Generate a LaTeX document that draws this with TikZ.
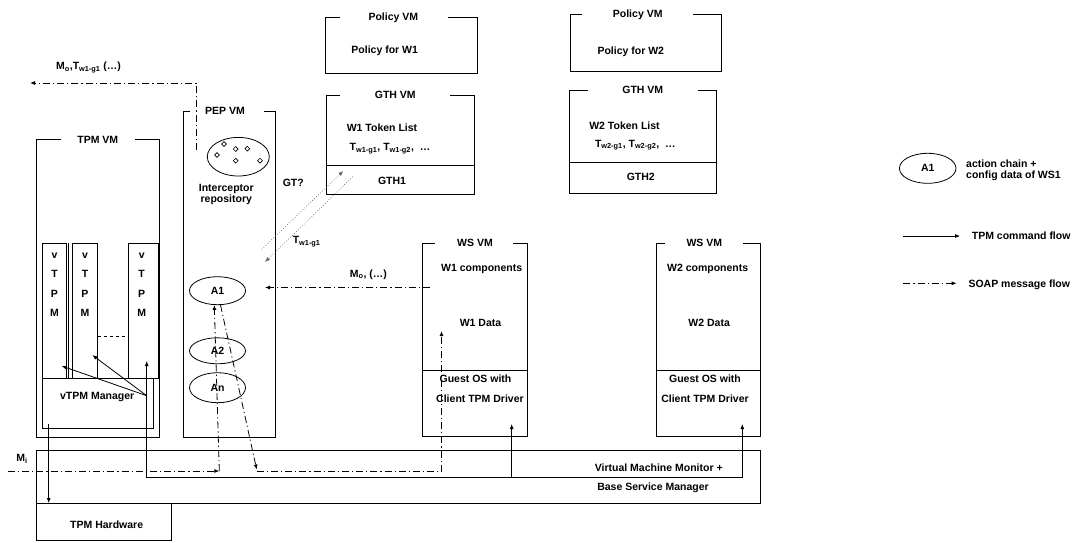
\documentclass[tikz,border=0pt]{standalone}
\usepackage{fontspec}
\setmainfont{Liberation Sans}
\usetikzlibrary{arrows.meta,shapes.geometric}
\newcommand\vmbox[6]{\draw[box] (#5,#2) -- (#1,#2) -- (#1,#4) -- (#3,#4) -- (#3,#2) -- (#6,#2);}
\begin{document}
\begin{tikzpicture}[x=1pt,y=-1pt,
  lbl/.style={font=\bfseries\fontsize{10.5}{12}\selectfont, inner sep=0pt, text height=7.5pt, text depth=0pt},
  box/.style={line width=0.8pt, draw=black},
  arr/.style={line width=0.8pt, -{Latex[length=5pt,width=4pt]}},
  soap/.style={line width=0.8pt, dash pattern=on 7pt off 3pt on 1.2pt off 3pt},
  soaparr/.style={soap, -{Latex[length=5pt,width=4pt]}},
  tok/.style={line width=0.7pt, black!60, dotted, -{Latex[length=5pt,width=4pt]}},
  act/.style={ellipse, draw, line width=0.8pt, minimum width=56pt, minimum height=28pt, inner sep=0pt, font=\bfseries\fontsize{10.5}{12}\selectfont},
  dia/.style={line width=0.6pt}]
\useasboundingbox (0,0) rectangle (1075,542);

% ---------- boxes ----------
\vmbox{36}{139.3}{159.3}{437}{61}{135}
\node[lbl] (tpmvm) at (97.8,139.3) {TPM VM};
\vmbox{183.7}{111}{275.3}{437}{190}{264}
\node[lbl] (pepvm) at (225,111) {PEP VM};
\vmbox{325.7}{17.3}{477.3}{73.3}{340}{448.3}
\node[lbl] (pol1) at (393.3,16.5) {Policy VM};
\node[lbl] (pol1t) at (384.7,50) {Policy for W1};
\vmbox{326.7}{95.7}{474}{194.3}{340}{450}
\node[lbl] (gth1) at (395.3,95) {GTH VM};
\draw[box] (326.7,165) -- (474,165);
\node[lbl] (tl1) at (382,127.3) {W1 Token List};
\node[lbl] (tk1) at (390,146.7) {T\textsubscript{w1-g1}, T\textsubscript{w1-g2}, \ \dots};
\node[lbl] (gthone) at (392,181) {GTH1};
\vmbox{570}{14.3}{721.7}{71}{581.7}{693.3}
\node[lbl] (pol2) at (637.7,13.5) {Policy VM};
\node[lbl] (pol2t) at (630.8,50.7) {Policy for W2};
\vmbox{569.3}{90}{716.7}{193.3}{588.3}{698.3}
\node[lbl] (gth2) at (642.8,89.5) {GTH VM};
\draw[box] (569.3,162.7) -- (716.7,162.7);
\node[lbl] (tl2) at (624.5,125.3) {W2 Token List};
\node[lbl] (tk2) at (635.3,143.3) {T\textsubscript{w2-g1}, T\textsubscript{w2-g2}, \ \dots};
\node[lbl] (gthtwo) at (640.8,176.7) {GTH2};
\vmbox{422.7}{243.3}{527.3}{436.7}{435}{513.3}
\node[lbl] (ws1) at (475,242.7) {WS VM};
\draw[box] (422.7,370) -- (527.3,370);
\node[lbl] (w1c) at (481.7,267.3) {W1 components};
\node[lbl] (w1d) at (480.5,322.3) {W1 Data};
\node[lbl] (w1g) at (475.5,378.3) {Guest OS with};
\node[lbl] (w1t) at (480,398.3) {Client TPM Driver};
\vmbox{656}{243.3}{760}{436.7}{665}{743.3}
\node[lbl] (ws2) at (704.3,242.7) {WS VM};
\draw[box] (656,370) -- (760,370);
\node[lbl] (w2c) at (707.7,267.3) {W2 components};
\node[lbl] (w2d) at (709.2,322.3) {W2 Data};
\node[lbl] (w2g) at (705,379) {Guest OS with};
\node[lbl] (w2t) at (705,398.3) {Client TPM Driver};
% VMM and hardware
\draw[box] (36,450) rectangle (760,503);
\node[lbl] (vmm1) at (658.7,467.7) {Virtual Machine Monitor +};
\node[lbl] (vmm2) at (653,486.7) {Base Service Manager};
\draw[box] (36,503) rectangle (171.5,540);
\node[lbl] (hw) at (106.7,525) {TPM Hardware};

% ---------- TPM VM internals ----------
\draw[box] (42,243) rectangle (66,378);
\draw[box] (68,243) -- (68,378);
\draw[box] (72.5,243) rectangle (97.5,378);
\draw[box] (128.7,243) rectangle (158.7,378);
\draw[box] (42,378) -- (159.3,378);
\draw[box] (42,378) -- (42,428.3) -- (153.3,428.3) -- (153.3,378);
\draw[line width=0.8pt, dashed] (97.5,336) -- (128.7,336);
\foreach \cx/\nm in {54.5/a,85/b,141.7/c}{
  \node[lbl] (v\nm) at (\cx,255) {v};
  \node[lbl] (t\nm) at (\cx,274) {T};
  \node[lbl] (p\nm) at (\cx,293.5) {P};
  \node[lbl] (m\nm) at (\cx,312.5) {M};
}
\node[lbl] (mgr) at (97.2,395.7) {vTPM Manager};

% ---------- PEP VM internals ----------
\draw[line width=0.8pt] (238.3,156.7) ellipse [x radius=31, y radius=19.3];
\foreach \dx/\dy in {224/144,235.7/149,247.3/148.7,217/155,235.7/160.7,260/160.7}{
  \draw[dia] (\dx-2.4,\dy) -- (\dx,\dy-2.4) -- (\dx+2.4,\dy) -- (\dx,\dy+2.4) -- cycle;
}
\node[lbl] (ir1) at (226.3,187.3) {Interceptor};
\node[lbl] (ir2) at (226.3,199) {repository};
\node[act] (A1) at (217.5,290.7) {A1};
\node[act, minimum height=26pt] (A2) at (217.5,350.8) {A2};
\node[act, minimum height=30pt] (An) at (217.5,387.7) {An};

% ---------- coordinates ----------
\coordinate (pepOut) at (196,150);
\coordinate (pepCorner) at (196,83);
\coordinate (leftEnd) at (30,83);
\coordinate (miStart) at (8,471);
\coordinate (miCorner) at (219.3,471);
\coordinate (a1Bot) at (214.3,305);
\coordinate (a1Out) at (220.5,305);
\coordinate (downEnd) at (256.7,469.5);
\coordinate (wsCorner) at (441.5,471.5);
\coordinate (wsIn) at (441.5,331);
\coordinate (moStart) at (430,287.5);
\coordinate (moEnd) at (265,287.5);
\coordinate (gtStart) at (261.7,249.3);
\coordinate (gtEnd) at (343.3,171);
\coordinate (tkStart) at (352.7,176.7);
\coordinate (tkEnd) at (265,262);
\coordinate (mgrSrc) at (146.7,395.7);
\coordinate (vt1) at (61.7,366);
\coordinate (vt2) at (92.3,355);
\coordinate (vt3) at (146.7,361);
\coordinate (busL) at (146.7,477.3);
\coordinate (busW1) at (511.7,477.3);
\coordinate (busW2) at (742.3,477.3);
\coordinate (w1In) at (511.7,424);
\coordinate (w2In) at (742.3,424);
\coordinate (mgrDown) at (48.7,424);
\coordinate (hwTop) at (48.7,503);

% ---------- TPM command flow ----------
\draw[arr] (mgrSrc) -- (vt1);
\draw[arr] (mgrSrc) -- (vt2);
\draw[arr] (busW2) -- (busL) -- (vt3);
\draw[arr] (busL) -| (w2In);
\draw[arr] (busW1) -- (w1In);
\draw[arr] (mgrDown) -- (hwTop);

% ---------- SOAP message flow ----------
\draw[soaparr] (pepOut) -- (pepCorner) -- (leftEnd);
\node[lbl] (moT) at (88.5,66) {M\textsubscript{o},T\textsubscript{w1-g1} (\dots)};
\draw[soaparr] (miStart) -- (miCorner);
\draw[soaparr] (miCorner) -- (a1Bot);
\node[lbl] (mi) at (22,458) {M\textsubscript{i}};
\draw[soaparr] (a1Out) -- (downEnd);
\draw[soaparr] (downEnd |- wsCorner) -- (wsCorner) -- (wsIn);
\draw[soaparr] (moStart) -- (moEnd);
\node[lbl] (mo) at (368.3,273.3) {M\textsubscript{o}, (\dots)};

% ---------- token request ----------
\draw[tok] (gtStart) -- (gtEnd);
\draw[tok] (tkStart) -- (tkEnd);
\node[lbl] (gt) at (293.3,182.7) {GT?};
\node[lbl] (tw) at (306.7,240) {T\textsubscript{w1-g1}};

% ---------- legend ----------
\node[act, minimum width=56.6pt, minimum height=30pt] (legA) at (927.7,168.3) {A1};
\node[lbl, anchor=west] (leg1) at (966,163.3) {action chain +};
\node[lbl, anchor=west] (leg2) at (966,174.6) {config data of WS1};
\coordinate (l1s) at (903.3,236);
\coordinate (l1e) at (960,236);
\draw[arr] (l1s) -- (l1e);
\node[lbl, anchor=west] (leg3) at (971.7,236) {TPM command flow};
\coordinate (l2s) at (903.3,283.3);
\coordinate (l2e) at (956.7,283.3);
\draw[soaparr] (l2s) -- (l2e);
\node[lbl, anchor=west] (leg4) at (968.3,283.3) {SOAP message flow};
\end{tikzpicture}
\end{document}
